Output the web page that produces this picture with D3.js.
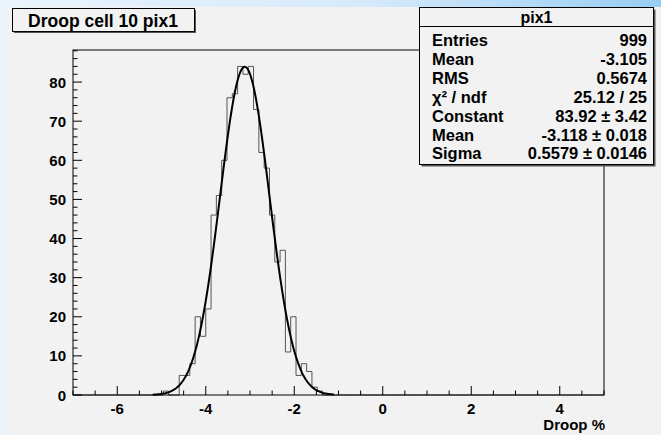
<!DOCTYPE html>
<html>
<head>
<meta charset="utf-8">
<script src="https://cdn.jsdelivr.net/npm/d3@7"></script>
<style>
  body { margin: 0; background: #fff; }
  text { font-family: "Liberation Sans", Arial, sans-serif; font-weight: bold; fill: #000; }
</style>
</head>
<body>
<div id="chart"></div>
<script>
// histogram: 100 bins over [-7, 5], counts start at bin 17
var histRange = [-7, 5];
var nBins = 100;
var firstBin = 17;
var binCounts = [1, 0, 0, 5, 5, 8, 20, 15, 22, 46, 51, 60, 76, 77, 84, 82, 84, 73, 62, 58,
                 46, 34, 37, 11, 20, 5, 8, 6, 2, 1];

// gaus fit: constant, mean, sigma and the range it was drawn on
var fitParams = [83.92, -3.118, 0.5579];
var fitRange = [-5.2, -1.1];

var xTicks = [-6, -4, -2, 0, 2, 4];
var yTicks = [0, 10, 20, 30, 40, 50, 60, 70, 80];

var statNames = ["Entries", "Mean", "RMS", "\u03c7\u00b2 / ndf", "Constant", "Mean", "Sigma"];
var statValues = ["999", "-3.105", "0.5674", "25.12 / 25", "83.92 \u00b1 3.42", "-3.118 \u00b1 0.018", "0.5579 \u00b1 0.0146"];

var title = "Droop cell 10 pix1";
var histName = "pix1";
var xLabel = "Droop %";

var W = 661, H = 435;
var svg = d3.select("#chart").append("svg").attr("width", W).attr("height", H);

// canvas background
var grad = svg.append("defs").append("linearGradient").attr("id", "bg")
    .attr("x1", "0%").attr("y1", "0%").attr("x2", "100%").attr("y2", "0%");
grad.append("stop").attr("offset", "0%").attr("stop-color", "#eaf4fd");
grad.append("stop").attr("offset", "55%").attr("stop-color", "#d6eafb");
grad.append("stop").attr("offset", "100%").attr("stop-color", "#98cdf3");
svg.append("rect").attr("width", W).attr("height", H).attr("fill", "url(#bg)");
svg.append("rect").attr("x", 0).attr("y", 7).attr("width", 7).attr("height", H).attr("fill", "#e9f4fd");
svg.append("rect").attr("x", 7).attr("y", 7).attr("width", W - 7).attr("height", H - 7).attr("fill", "#f2f2f2");

// scales
var x = d3.scaleLinear().domain(histRange).range([73, 604]);
var y = d3.scaleLinear().domain([0, 88.2]).range([395, 50]);

// full bin contents
var counts = d3.range(nBins).map(function (i) {
    var j = i - firstBin;
    return (j >= 0 && j < binCounts.length) ? binCounts[j] : 0;
});
var bw = (histRange[1] - histRange[0]) / nBins;

// step outline
var pts = [[histRange[0], 0]];
counts.forEach(function (c, i) {
    var lo = histRange[0] + i * bw;
    pts.push([lo, c]);
    pts.push([lo + bw, c]);
});
pts.push([histRange[1], 0]);
svg.append("path")
    .attr("d", d3.line().x(function (d) { return x(d[0]); }).y(function (d) { return y(d[1]); })(pts))
    .attr("fill", "none").attr("stroke", "#555").attr("stroke-width", 1);

// fit curve
var fitX = d3.range(fitRange[0], fitRange[1] + 0.001, 0.02);
svg.append("path")
    .attr("d", d3.line()
        .x(function (d) { return x(d); })
        .y(function (d) {
            var z = (d - fitParams[1]) / fitParams[2];
            return y(fitParams[0] * Math.exp(-0.5 * z * z));
        })(fitX))
    .attr("fill", "none").attr("stroke", "#000").attr("stroke-width", 2);

// frame
svg.append("rect").attr("x", 73).attr("y", 50).attr("width", 531).attr("height", 345)
    .attr("fill", "none").attr("stroke", "#000").attr("stroke-width", 1);

// x axis ticks (inside frame)
var xMinor = d3.range(-7, 5.001, 0.5);
svg.append("g").selectAll("line").data(xMinor).enter().append("line")
    .attr("x1", function (d) { return x(d); }).attr("x2", function (d) { return x(d); })
    .attr("y1", 395)
    .attr("y2", function (d) { return (Math.abs(d % 2) < 1e-6) ? 386 : 390.5; })
    .attr("stroke", "#000");
svg.append("g").selectAll("text").data(xTicks).enter().append("text")
    .attr("x", function (d) { return x(d); }).attr("y", 414)
    .attr("text-anchor", "middle").style("font-size", "15px")
    .text(function (d) { return d; });
svg.append("text").attr("x", 605).attr("y", 430).attr("text-anchor", "end")
    .style("font-size", "15px").text(xLabel);

// y axis ticks (inside frame)
var yMinor = d3.range(0, 88.2, 2);
svg.append("g").selectAll("line").data(yMinor).enter().append("line")
    .attr("y1", function (d) { return y(d); }).attr("y2", function (d) { return y(d); })
    .attr("x1", 73)
    .attr("x2", function (d) { return (d % 10 === 0) ? 82 : 77.5; })
    .attr("stroke", "#000");
svg.append("g").selectAll("text").data(yTicks).enter().append("text")
    .attr("x", 66).attr("y", function (d) { return y(d) + 5.5; })
    .attr("text-anchor", "end").style("font-size", "15px")
    .text(function (d) { return d; });

// title box
svg.append("rect").attr("x", 14).attr("y", 10).attr("width", 182).attr("height", 23).attr("fill", "#555");
svg.append("rect").attr("x", 12.5).attr("y", 8.5).attr("width", 182).attr("height", 23)
    .attr("fill", "#f2f2f2").attr("stroke", "#000");
svg.append("text").attr("x", 103).attr("y", 26.5).attr("text-anchor", "middle")
    .style("font-size", "17.5px").text(title);

// stats box
var sx = 419.5, sy = 7.5, sw = 234, sh = 157;
svg.append("rect").attr("x", sx + 2).attr("y", sy + 2).attr("width", sw).attr("height", sh).attr("fill", "#555");
svg.append("rect").attr("x", sx).attr("y", sy).attr("width", sw).attr("height", sh)
    .attr("fill", "#f2f2f2").attr("stroke", "#000");
svg.append("line").attr("x1", sx).attr("x2", sx + sw).attr("y1", 26.5).attr("y2", 26.5).attr("stroke", "#000");
svg.append("text").attr("x", sx + sw / 2).attr("y", 22.5).attr("text-anchor", "middle")
    .style("font-size", "16px").text(histName);
var rows = svg.append("g");
statNames.forEach(function (n, i) {
    var by = 46 + i * 18.9;
    rows.append("text").attr("x", 432).attr("y", by).style("font-size", "16.5px").text(n);
    rows.append("text").attr("x", 647).attr("y", by).attr("text-anchor", "end")
        .style("font-size", "16.5px").text(statValues[i]);
});
</script>
</body>
</html>
